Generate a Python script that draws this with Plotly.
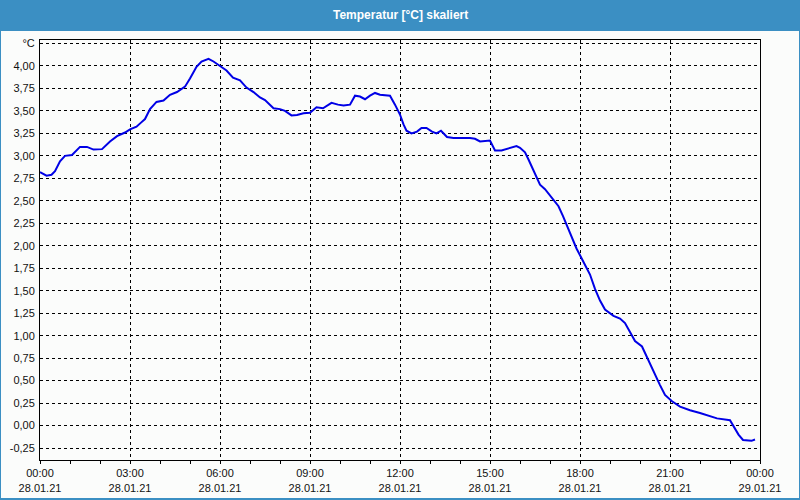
import plotly.graph_objects as go
import pandas as pd

# ---- data ----
times = ["00:00","00:13","00:23","00:30","00:40","00:50","01:04","01:12","01:20","01:34",
         "01:47","02:04","02:20","02:34","02:50","03:00","03:13","03:22","03:30","03:40",
         "03:53","04:07","04:20","04:34","04:50","05:00","05:13","05:23","05:37","05:47",
         "06:00","06:13","06:26","06:40","06:53","07:07","07:20","07:30","07:47","08:00",
         "08:10","08:23","08:34","08:47","09:00","09:13","09:26","09:43","09:56","10:07",
         "10:20","10:30","10:40","10:50","11:00","11:10","11:20","11:40","11:50","12:00",
         "12:07","12:13","12:23","12:34","12:43","12:53","13:04","13:13","13:22","13:34",
         "13:47","14:20","14:30","14:40","15:00","15:10","15:23","15:34","15:43","15:53",
         "16:00","16:10","16:17","16:26","16:40","16:50","17:04","17:17","17:26","17:40",
         "17:53","18:07","18:20","18:30","18:40","18:50","19:07","19:20","19:30","19:40",
         "19:50","20:04","20:13","20:26","20:40","20:50","21:04","21:20","21:40","22:00",
         "22:20","22:34","23:00","23:07","23:17","23:26","23:43","23:50"]
temps = [2.82,2.78,2.79,2.83,2.94,3.00,3.01,3.05,3.10,3.10,
         3.07,3.075,3.16,3.22,3.26,3.295,3.325,3.37,3.41,3.52,
         3.60,3.615,3.68,3.71,3.77,3.86,3.99,4.05,4.08,4.05,
         4.00,3.95,3.87,3.84,3.76,3.71,3.65,3.62,3.53,3.52,
         3.50,3.45,3.455,3.475,3.48,3.54,3.53,3.59,3.57,3.56,
         3.57,3.67,3.66,3.63,3.67,3.70,3.68,3.67,3.57,3.46,
         3.35,3.28,3.25,3.27,3.31,3.31,3.27,3.25,3.28,3.21,
         3.20,3.20,3.19,3.16,3.17,3.06,3.06,3.08,3.09,3.11,
         3.09,3.04,2.96,2.85,2.68,2.63,2.53,2.44,2.33,2.14,
         1.97,1.82,1.68,1.52,1.39,1.29,1.22,1.19,1.14,1.04,
         0.94,0.88,0.77,0.63,0.45,0.34,0.27,0.21,0.17,0.14,
         0.10,0.08,0.06,-0.01,-0.10,-0.16,-0.17,-0.155]

y_ticks = [-0.25,0.0,0.25,0.5,0.75,1.0,1.25,1.5,1.75,2.0,2.25,2.5,2.75,3.0,3.25,3.5,3.75,4.0,4.25]
y_labels = ["-0,25","0,00","0,25","0,50","0,75","1,00","1,25","1,50","1,75","2,00",
            "2,25","2,50","2,75","3,00","3,25","3,50","3,75","4,00","°C"]
title_text = "Temperatur [°C] skaliert"

x = pd.to_datetime(["2021-01-28 " + t for t in times])

W, H = 800, 500
L, R, T, B = 40, 40, 40, 40
pw, ph = W - L - R, H - T - B
def px(xp): return (xp - L) / pw
def py(yp): return (H - B - yp) / ph

fig = go.Figure()
fig.add_trace(go.Scatter(x=x, y=temps, mode="lines",
                         line=dict(color="#0000e6", width=2), showlegend=False))

bg = "#fbfcfb"
fig.update_layout(
    width=W, height=H,
    margin=dict(l=L, r=R, t=T, b=B, autoexpand=False),
    paper_bgcolor="#3b8fc3",
    plot_bgcolor=bg,
    shapes=[dict(type="rect", xref="paper", yref="paper",
                 x0=px(1), x1=px(799), y0=py(498), y1=py(31),
                 fillcolor=bg, line=dict(width=0), layer="below")],
    annotations=[dict(text="<b>" + title_text + "</b>", xref="paper", yref="paper",
                      x=0.5, y=py(15), xanchor="center", yanchor="middle",
                      showarrow=False,
                      font=dict(family="Liberation Sans", size=12, color="white"))],
    font=dict(family="Liberation Sans", size=11, color="#111111"),
)
fig.update_xaxes(
    type="date", automargin=False,
    range=["2021-01-28 00:00", "2021-01-29 00:00"],
    dtick=3 * 3600 * 1000, tick0="2021-01-28 00:00",
    tickformat="%H:%M<br>%d.%m.%y",
    ticks="outside", ticklen=3, tickcolor="black",
    minor=dict(dtick=3600 * 1000, ticks="outside", ticklen=3, tickcolor="black", showgrid=False),
    showgrid=True, gridcolor="black", gridwidth=1, griddash="3px,3px",
    showline=True, linecolor="black", linewidth=1, mirror=True,
    zeroline=False,
)
fig.update_yaxes(
    automargin=False,
    range=[-0.383, 4.289],
    tickmode="array", tickvals=y_ticks, ticktext=y_labels,
    ticks="", ticklabelstandoff=2,
    showgrid=True, gridcolor="black", gridwidth=1, griddash="3px,3px",
    showline=True, linecolor="black", linewidth=1, mirror=True,
    zeroline=False,
)
fig.write_html("out.html")
